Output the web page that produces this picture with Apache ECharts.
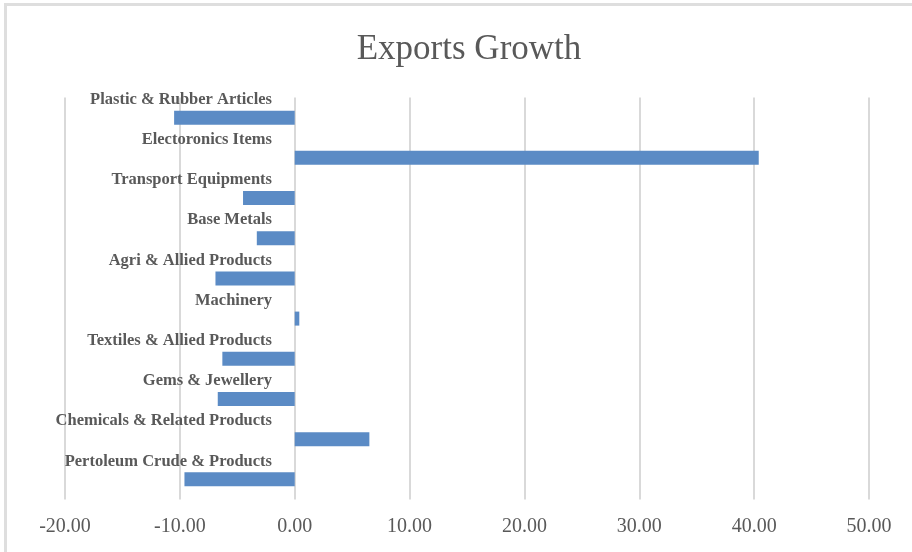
<!DOCTYPE html>
<html>
<head>
<meta charset="utf-8">
<script src="https://cdn.jsdelivr.net/npm/echarts@6/dist/echarts.min.js"></script>
<style>
  html, body { margin: 0; padding: 0; background: #fff; }
  #main { width: 912px; height: 552px; }
</style>
</head>
<body>
<div id="main"></div>
<script>
// 类别（从下到上）
var categories = [
    'Pertoleum Crude & Products',
    'Chemicals & Related Products',
    'Gems & Jewellery',
    'Textiles & Allied Products',
    'Machinery',
    'Agri & Allied Products',
    'Base Metals',
    'Transport Equipments',
    'Electoronics Items',
    'Plastic & Rubber Articles'
];
// 增长率
var growth = [-9.6, 6.5, -6.7, -6.3, 0.4, -6.9, -3.3, -4.5, 40.4, -10.5];

var myChart = echarts.init(document.getElementById('main'));

var option = {
    animation: false,
    title: {
        text: 'Exports Growth',
        left: 464,
        textAlign: 'center',
        top: 27,
        textStyle: {
            fontFamily: 'Liberation Serif',
            fontWeight: 'normal',
            fontSize: 35,
            color: '#595959'
        }
    },
    // 边框
    graphic: [{
        type: 'rect',
        shape: { x: 5.5, y: 4.5, width: 940, height: 580 },
        style: { fill: 'none', stroke: '#dedede', lineWidth: 3 },
        silent: true
    }],
    grid: {
        left: 65,
        right: 43,
        top: 97.6,
        bottom: 52.6,
        outerBoundsMode: 'none',
        containLabel: false
    },
    xAxis: {
        type: 'value',
        min: -20,
        max: 50,
        interval: 10,
        axisLine: { show: false },
        axisTick: { show: false },
        splitLine: { lineStyle: { color: '#d9d9d9', width: 2 } },
        axisLabel: {
            margin: 17,
            fontFamily: 'Liberation Serif',
            fontSize: 20,
            color: '#595959',
            formatter: function (v) { return v.toFixed(2); }
        }
    },
    yAxis: {
        type: 'category',
        data: categories,
        position: 'left',
        offset: -230,   // 标签贴着 0 轴
        axisLine: { show: false },
        axisTick: { show: false },
        axisLabel: {
            interval: 0,
            margin: 23,
            lineHeight: 36,
            fontFamily: 'Liberation Serif',
            fontWeight: 'bold',
            fontSize: 16.5,
            color: '#595959',
            formatter: function (v) { return v + '\n'; }
        }
    },
    series: [{
        type: 'bar',
        data: growth,
        barWidth: 14,
        itemStyle: { color: '#5b8bc5' }
    }]
};

myChart.setOption(option, true);
</script>
</body>
</html>
